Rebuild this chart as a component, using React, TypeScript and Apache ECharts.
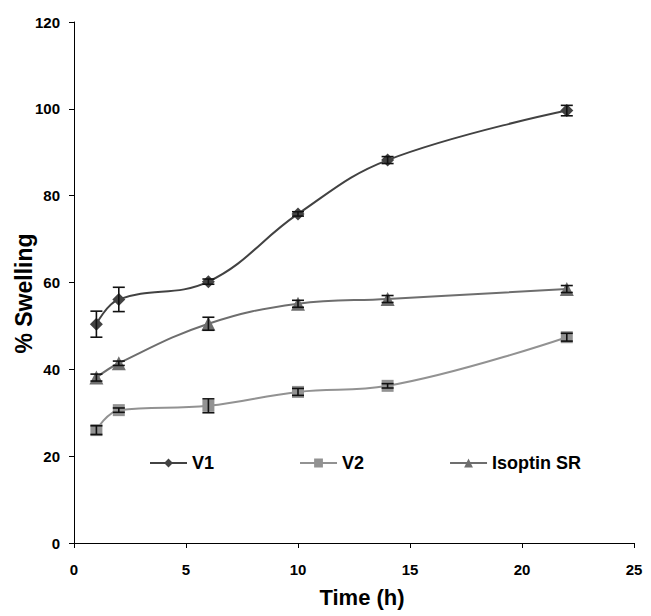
import React, { useEffect, useRef } from "react";
import * as echarts from "echarts";

const xValues = [1, 2, 6, 10, 14, 22];
const v1Values = [50.4, 56.1, 60.2, 75.8, 88.2, 99.6];
const v2Values = [26.0, 30.6, 31.6, 34.8, 36.2, 47.4];
const isoValues = [38.1, 41.4, 50.5, 55.1, 56.2, 58.5];
const v1Err = [3.0, 2.8, 0.6, 0.5, 0.8, 1.2];
const v2Err = [1.0, 0.5, 1.6, 0.8, 0.5, 0.9];
const isoErr = [0.8, 0.5, 1.5, 0.8, 0.8, 0.8];
const seriesNames = ["V1", "V2", "Isoptin SR"];
const xTicks = [0, 5, 10, 15, 20, 25];
const yTicks = [0, 20, 40, 60, 80, 100, 120];

const FONT = "'Liberation Sans', Arial, sans-serif";

function errorSeries(vals: number[], errs: number[]) {
  return {
    type: "custom",
    z: 5,
    silent: true,
    renderItem: (params: any, api: any) => {
      const x = api.value(0);
      const y = api.value(1);
      const e = api.value(2);
      const top = api.coord([x, y + e]);
      const bot = api.coord([x, y - e]);
      const hw = 6;
      const style = { stroke: "#111", lineWidth: 1.6 };
      return {
        type: "group",
        children: [
          { type: "line", shape: { x1: top[0], y1: top[1], x2: bot[0], y2: bot[1] }, style },
          { type: "line", shape: { x1: top[0] - hw, y1: top[1], x2: top[0] + hw, y2: top[1] }, style },
          { type: "line", shape: { x1: bot[0] - hw, y1: bot[1], x2: bot[0] + hw, y2: bot[1] }, style },
        ],
      };
    },
    encode: { x: 0, y: 1 },
    data: xValues.map((x, i) => [x, vals[i], errs[i]]),
  };
}

export default function App() {
  const ref = useRef<HTMLDivElement>(null);
  useEffect(() => {
    if (!ref.current) return;
    const chart = echarts.init(ref.current, null, { renderer: "svg" });
    const lineSeries = (name: string, vals: number[], color: string, symbol: string, size: number) => ({
      name,
      type: "line",
      smooth: 0.4,
      symbol,
      symbolSize: size,
      z: 3,
      lineStyle: { color, width: 2 },
      itemStyle: { color },
      data: xValues.map((x, i) => [x, vals[i]]),
    });
    chart.setOption({
      animation: false,
      backgroundColor: "#fff",
      textStyle: { fontFamily: FONT },
      grid: { left: 74, right: 17, top: 22, bottom: 73, containLabel: false, outerBoundsMode: "none" },
      legend: {
        data: seriesNames,
        left: 144,
        top: 449,
        itemGap: 85,
        itemWidth: 37,
        itemHeight: 11,
        textStyle: { fontFamily: FONT, fontWeight: "bold", fontSize: 18, color: "#000" },
      },
      xAxis: {
        type: "value",
        min: xTicks[0],
        max: xTicks[xTicks.length - 1],
        interval: 5,
        name: "Time (h)",
        nameLocation: "middle",
        nameGap: 43,
        nameMoveOverlap: false,
        nameTextStyle: { fontFamily: FONT, fontWeight: "bold", fontSize: 22, color: "#000", padding: [0, 0, 0, 16] },
        axisLine: { show: true, lineStyle: { color: "#000", width: 1 } },
        axisTick: { show: true, length: 5, lineStyle: { color: "#000" } },
        axisLabel: { margin: 19, fontFamily: FONT, fontWeight: "bold", fontSize: 15, color: "#000" },
        splitLine: { show: false },
      },
      yAxis: {
        type: "value",
        min: yTicks[0],
        max: yTicks[yTicks.length - 1],
        interval: 20,
        name: "% Swelling",
        nameLocation: "middle",
        nameGap: 39,
        nameMoveOverlap: false,
        nameTextStyle: { fontFamily: FONT, fontWeight: "bold", fontSize: 23, color: "#000", padding: [0, 22, 0, 0] },
        axisLine: { show: true, lineStyle: { color: "#000", width: 1 } },
        axisTick: { show: true, length: 5, lineStyle: { color: "#000" } },
        axisLabel: { margin: 14, fontFamily: FONT, fontWeight: "bold", fontSize: 15, color: "#000" },
        splitLine: { show: false },
      },
      series: [
        lineSeries(seriesNames[0], v1Values, "#424242", "diamond", 13),
        lineSeries(seriesNames[1], v2Values, "#929292", "rect", 12),
        lineSeries(seriesNames[2], isoValues, "#6e6e6e", "triangle", 14),
        errorSeries(v1Values, v1Err),
        errorSeries(v2Values, v2Err),
        errorSeries(isoValues, isoErr),
      ],
    });
    return () => chart.dispose();
  }, []);
  return <div ref={ref} style={{ position: "fixed", left: 0, top: 0, width: 651, height: 616 }} />;
}
